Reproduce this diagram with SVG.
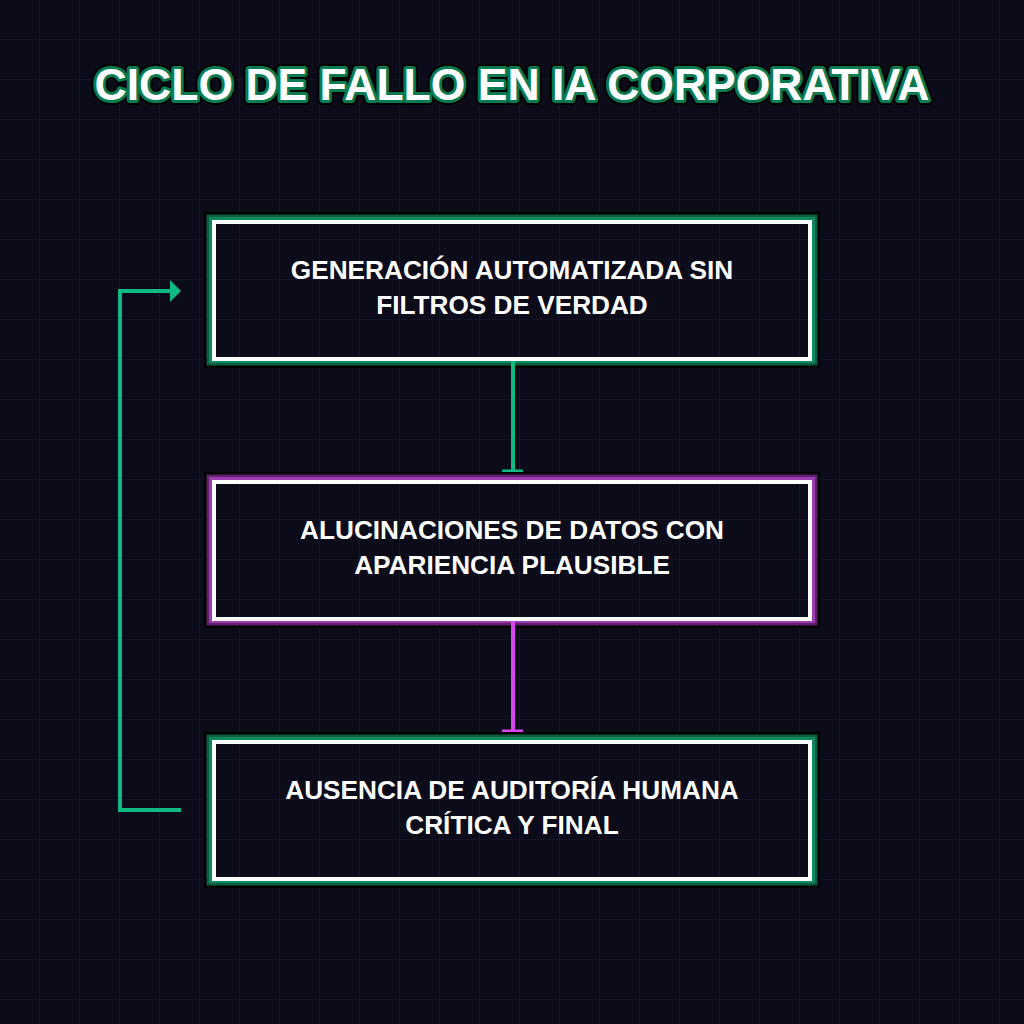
<svg xmlns="http://www.w3.org/2000/svg" width="1024" height="1024" viewBox="0 0 1024 1024">
<defs>
<pattern id="grid" width="40" height="40" patternUnits="userSpaceOnUse">
<path d="M40 0V40M0 40H40" fill="none" stroke="#1b1a2e" stroke-width="1.2"/>
</pattern>
<style>
.title{font-family:"Liberation Sans",Arial,sans-serif;font-weight:bold;font-size:44.5px;text-anchor:middle}
.lbl{font-family:"Liberation Sans",Arial,sans-serif;font-weight:bold;font-size:26.2px;fill:#ffffff;text-anchor:middle}
.inner{fill:none;stroke:#ffffff;stroke-width:4}
.g1{fill:none;stroke:#0a5e3e;stroke-width:3}
.g2{fill:none;stroke:#0f8a5c;stroke-width:4}
.m1{fill:none;stroke:#5e1f6c;stroke-width:3}
.m2{fill:none;stroke:#9c3cb0;stroke-width:4}
.blk{fill:none;stroke:#000000;stroke-width:3}
.cg{stroke:#10b981;stroke-width:4;fill:none}
.cm{stroke:#d946ef;stroke-width:4;fill:none}
</style>
</defs>
<rect width="1024" height="1024" fill="#0c0b1a"/>
<rect width="1024" height="1024" fill="url(#grid)"/>
<text class="title" x="512" y="100" stroke="#000" stroke-width="10" stroke-linejoin="round" fill="#000">CICLO DE FALLO EN IA CORPORATIVA</text>
<text class="title" x="512" y="100" stroke="#0a7a50" stroke-width="6" stroke-linejoin="round" fill="#fff" style="paint-order:stroke">CICLO DE FALLO EN IA CORPORATIVA</text>

<g id="node1">
<rect class="blk" x="205.5" y="213.5" width="613" height="153"/>
<rect class="g1" x="208" y="216" width="608" height="148"/>
<rect class="g2" x="211" y="219" width="602" height="142"/>
<rect class="inner" x="214" y="222" width="596" height="137"/>
<text class="lbl" x="512" y="279">GENERACIÓN AUTOMATIZADA SIN</text>
<text class="lbl" x="512" y="314">FILTROS DE VERDAD</text>
</g>

<g id="node2">
<rect class="blk" x="205.5" y="473.5" width="613" height="153"/>
<rect class="m1" x="208" y="476" width="608" height="148"/>
<rect class="m2" x="211" y="479" width="602" height="142"/>
<rect class="inner" x="214" y="482" width="596" height="137"/>
<text class="lbl" x="512" y="539">ALUCINACIONES DE DATOS CON</text>
<text class="lbl" x="512" y="574">APARIENCIA PLAUSIBLE</text>
</g>

<g id="node3">
<rect class="blk" x="205.5" y="733.5" width="613" height="153"/>
<rect class="g1" x="208" y="736" width="608" height="148"/>
<rect class="g2" x="211" y="739" width="602" height="142"/>
<rect class="inner" x="214" y="742" width="596" height="137"/>
<text class="lbl" x="512" y="799">AUSENCIA DE AUDITORÍA HUMANA</text>
<text class="lbl" x="512" y="834">CRÍTICA Y FINAL</text>
</g>

<g id="connectors">
<line class="cg" x1="513" y1="361" x2="513" y2="471"/>
<rect x="502" y="469.5" width="21" height="2.5" fill="#10b981"/>
<line class="cm" x1="513" y1="621" x2="513" y2="731"/>
<rect x="502" y="729.5" width="21" height="2.5" fill="#d946ef"/>
<polyline class="cg" points="181,810 120,810 120,291 171,291"/>
<polygon points="181,291 170,280 170,302" fill="#10b981"/>
</g>
</svg>
